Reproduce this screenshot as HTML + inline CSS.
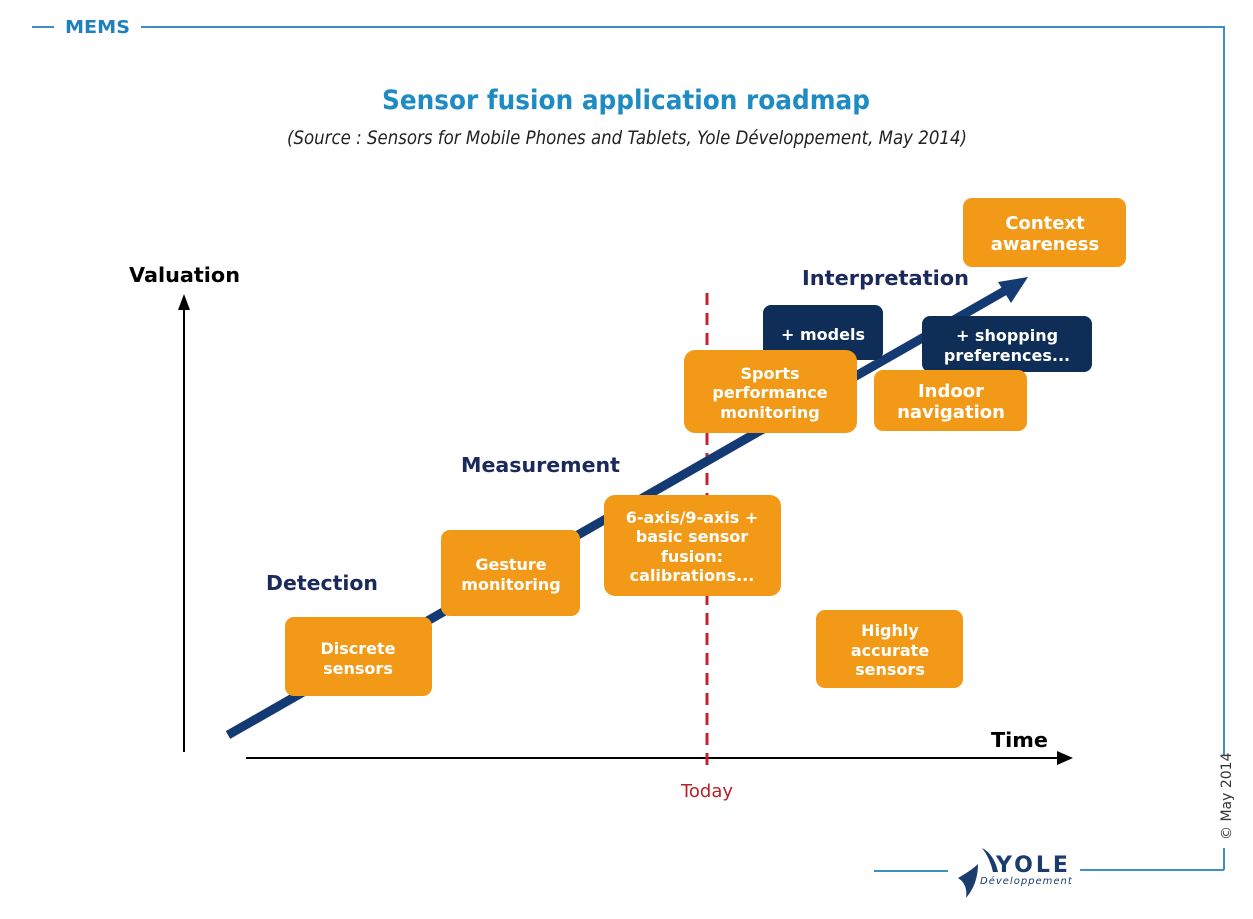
<!DOCTYPE html>
<html><head><meta charset="utf-8"><style>
html,body{margin:0;padding:0;background:#fff}
svg{display:block}
text{font-family:"DejaVu Sans","Liberation Sans",sans-serif}
.b{font-weight:bold;fill:#fff;font-size:16px;text-anchor:middle}
.l{font-weight:bold;fill:#1b2a5a;font-size:20px}
</style></head><body>
<svg width="1253" height="919" viewBox="0 0 1253 919">
<line x1="32" y1="27" x2="54" y2="27" stroke="#3d8fc6" stroke-width="2"/>
<text x="65" y="33" font-size="18" font-weight="bold" fill="#1f7fbf" textLength="65" lengthAdjust="spacingAndGlyphs">MEMS</text>
<polyline points="141,27 1224,27 1224,755" fill="none" stroke="#3d8fc6" stroke-width="2"/>
<line x1="1224" y1="848" x2="1224" y2="870" stroke="#3d8fc6" stroke-width="2"/>
<line x1="1080" y1="870" x2="1224" y2="870" stroke="#3d8fc6" stroke-width="2"/>
<line x1="874" y1="871" x2="948" y2="871" stroke="#3d8fc6" stroke-width="2"/>
<text transform="translate(1231,840) rotate(-90)" font-size="14" fill="#333" font-family="Liberation Sans">© May 2014</text>
<path d="M958,878 q10,6 8,20 q12,-14 12,-34 q-6,6 -20,14z" fill="#1a3d6e"/>
<path d="M982,848 q12,6 16,24 l-5,0 q-3,-14 -11,-24z" fill="#1a3d6e"/>
<text x="996" y="872" font-size="22" font-weight="bold" fill="#1a3d6e" letter-spacing="3">YOLE</text>
<text x="980" y="884" font-size="10" font-style="italic" fill="#1a3d6e" letter-spacing="1">Développement</text>

<text x="626" y="109" text-anchor="middle" font-size="27" font-weight="bold" fill="#1f8bc4" textLength="488" lengthAdjust="spacingAndGlyphs">Sensor fusion application roadmap</text>
<text x="627" y="144" text-anchor="middle" font-size="19" font-style="italic" fill="#222" textLength="680" lengthAdjust="spacingAndGlyphs">(Source : Sensors for Mobile Phones and Tablets, Yole Développement, May 2014)</text>

<line x1="184" y1="752" x2="184" y2="308" stroke="#000" stroke-width="2"/>
<polygon points="184,294 178,310 190,310" fill="#000"/>
<line x1="246" y1="758" x2="1058" y2="758" stroke="#000" stroke-width="2"/>
<polygon points="1073,758 1057,751 1057,765" fill="#000"/>
<text x="129" y="282" font-size="20" font-weight="bold" fill="#000" textLength="111" lengthAdjust="spacingAndGlyphs">Valuation</text>
<text x="991" y="747" font-size="20" font-weight="bold" fill="#000" textLength="57" lengthAdjust="spacingAndGlyphs">Time</text>

<line x1="707" y1="293" x2="707" y2="773" stroke="#c8202a" stroke-width="3" stroke-dasharray="12,8"/>
<text x="707" y="797" text-anchor="middle" font-size="18" fill="#b8202a" font-family="Liberation Sans">Today</text>

<line x1="228" y1="735" x2="1008" y2="289" stroke="#133a73" stroke-width="9"/>
<polygon points="1028,277 998,282 1011,303" fill="#133a73"/>

<text class="l" x="266" y="590" textLength="112" lengthAdjust="spacingAndGlyphs">Detection</text>
<text class="l" x="461" y="472" textLength="159" lengthAdjust="spacingAndGlyphs">Measurement</text>
<text class="l" x="802" y="285" textLength="167" lengthAdjust="spacingAndGlyphs">Interpretation</text>

<rect x="763" y="305" width="120" height="55" rx="8" fill="#0e2d57"/>
<text class="b" x="823" y="340">+ models</text>
<rect x="922" y="316" width="170" height="56" rx="8" fill="#0e2d57"/>
<text class="b" x="1007" y="341">+ shopping</text><text class="b" x="1007" y="361">preferences...</text>

<g fill="#f29a17">
<rect x="963" y="198" width="163" height="69" rx="9"/>
<rect x="285" y="617" width="147" height="79" rx="9"/>
<rect x="441" y="530" width="139" height="86" rx="9"/>
<rect x="604" y="495" width="177" height="101" rx="11"/>
<rect x="684" y="350" width="173" height="83" rx="11"/>
<rect x="874" y="370" width="153" height="61" rx="9"/>
<rect x="816" y="610" width="147" height="78" rx="9"/>
</g>
<text class="b" x="1045" y="229" style="font-size:18px">Context</text><text class="b" x="1045" y="250" style="font-size:18px">awareness</text>
<text class="b" x="358" y="654">Discrete</text><text class="b" x="358" y="674">sensors</text>
<text class="b" x="511" y="570">Gesture</text><text class="b" x="511" y="590">monitoring</text>
<text class="b" x="692" y="523">6-axis/9-axis +</text><text class="b" x="692" y="542">basic sensor</text><text class="b" x="692" y="562">fusion:</text><text class="b" x="692" y="581">calibrations...</text>
<text class="b" x="770" y="379">Sports</text><text class="b" x="770" y="398">performance</text><text class="b" x="770" y="418">monitoring</text>
<text class="b" x="951" y="397" style="font-size:18px">Indoor</text><text class="b" x="951" y="418" style="font-size:18px">navigation</text>
<text class="b" x="890" y="636">Highly</text><text class="b" x="890" y="656">accurate</text><text class="b" x="890" y="675">sensors</text>
</svg>
</body></html>
